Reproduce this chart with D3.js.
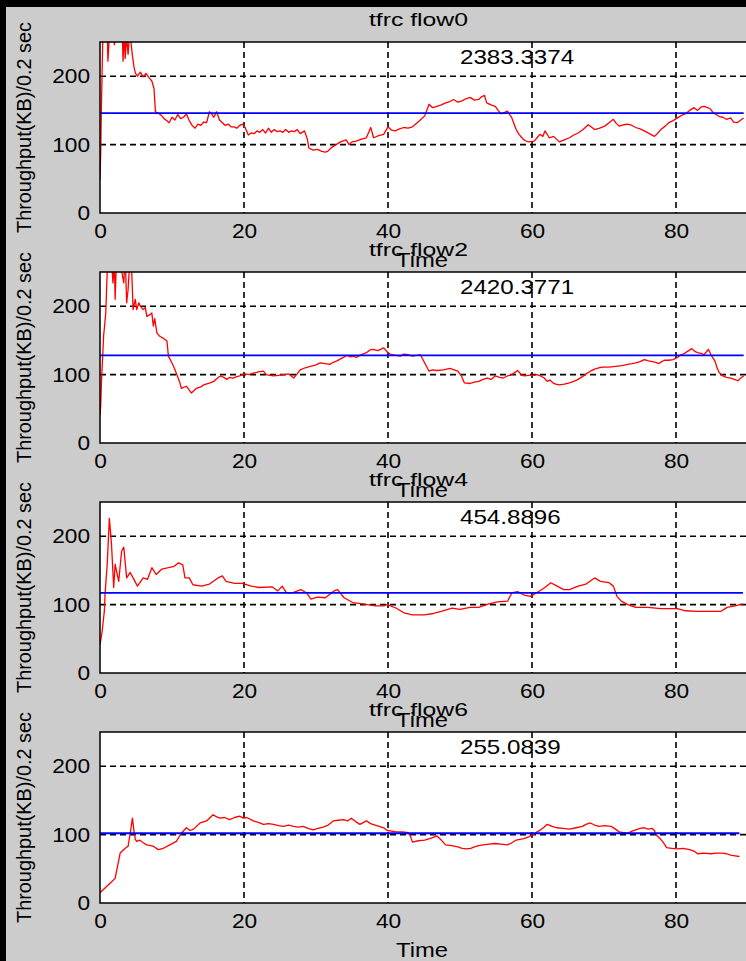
<!DOCTYPE html>
<html><head><meta charset="utf-8">
<script src="https://cdn.jsdelivr.net/npm/d3@7"></script>
<style>html,body{margin:0;padding:0;background:#000;overflow:hidden} svg{display:block}</style>
</head><body>
<script>
// ---------- data ----------
const flowNames = ["tfrc flow0", "tfrc flow2", "tfrc flow4", "tfrc flow6"];
const totals = ["2383.3374", "2420.3771", "454.8896", "255.0839"];
const meanValues = [146, 128, 117, 102];
const xTicks = [0, 20, 40, 60, 80];
const yTicks = [0, 100, 200];
const xLabel = "Time";
const yLabel = "Throughput(KB)/0.2 sec";

const flow0 = [[0,49],[0.1,88],[0.2,156],[0.4,262],[0.7,275],[1.0,268],[1.1,222],[1.3,258],[1.6,280],[1.9,262],[2.0,246],[2.2,270],[2.5,285],[2.9,270],[3.1,262],[3.2,222],[3.4,265],[3.5,226],[3.7,258],[3.9,232],[4.1,262],[4.3,250],[4.5,230],[4.7,215],[4.9,205],[5.2,200],[5.6,206],[6.0,199],[6.4,204],[6.8,198],[7.2,193],[7.5,182],[7.7,148],[8.1,146],[8.5,143],[8.9,138],[9.3,135],[9.6,132],[10.0,140],[10.4,136],[10.8,144],[11.2,138],[11.6,140],[12.0,145],[12.4,135],[12.8,128],[13.2,124],[13.6,130],[14.0,128],[14.4,133],[14.8,132],[15.2,148],[15.5,145],[15.8,140],[16.2,148],[16.6,136],[17.0,132],[17.4,128],[17.8,130],[18.2,126],[18.6,126],[19.0,124],[19.4,128],[19.8,130],[20.2,124],[20.6,114],[21.0,117],[21.4,116],[21.8,120],[22.2,118],[22.6,122],[23.0,117],[23.4,124],[23.8,118],[24.2,122],[24.6,119],[25.0,120],[25.4,118],[25.8,122],[26.2,118],[26.6,120],[27.0,119],[27.4,122],[27.8,116],[28.4,120],[28.8,108],[29.0,95],[29.6,92],[30.2,93],[30.8,90],[31.3,89],[31.6,90],[32.2,96],[32.8,100],[33.4,104],[34.2,107],[34.6,100],[35.0,104],[35.6,105],[36.3,108],[37.0,110],[37.6,125],[38.0,110],[38.7,113],[39.4,115],[40.0,126],[40.5,121],[41.0,120],[41.6,123],[42.2,125],[42.8,124],[43.4,126],[44.3,134],[45.1,142],[45.7,159],[46.2,154],[46.8,156],[47.4,158],[48.0,161],[48.6,163],[49.1,166],[49.7,162],[50.3,164],[50.8,167],[51.4,169],[52.0,165],[52.6,166],[53.0,170],[53.4,172],[53.7,161],[54.3,158],[54.9,156],[55.3,150],[55.7,145],[56.2,147],[56.6,149],[57.2,139],[57.8,122],[58.2,115],[58.6,110],[59.0,106],[59.5,104],[60.3,105],[60.7,110],[61.1,115],[61.5,112],[61.8,120],[62.4,110],[63.0,112],[63.4,108],[63.8,104],[64.5,107],[65.2,110],[65.8,114],[66.4,117],[67.1,122],[67.8,129],[68.2,126],[68.7,122],[69.4,124],[70.1,127],[70.7,132],[71.3,137],[71.7,131],[72.1,127],[72.7,129],[73.3,130],[73.9,128],[74.4,125],[75.0,123],[75.6,120],[76.3,116],[77.0,112],[77.4,116],[77.9,122],[78.5,127],[79.0,132],[79.6,135],[80.2,139],[80.8,143],[81.3,145],[81.9,150],[82.5,154],[83.0,150],[83.5,155],[83.9,156],[84.4,154],[84.8,152],[85.2,146],[85.6,144],[86.0,141],[86.5,140],[87.0,137],[87.6,139],[88.0,133],[88.5,132],[89.0,136],[89.4,139]];

const flow2 = [[0,41],[0.1,54],[0.2,88],[0.5,156],[0.8,190],[1.0,250],[1.2,268],[1.5,282],[1.8,234],[2.0,262],[2.1,210],[2.3,270],[2.6,285],[3.0,252],[3.3,234],[3.5,272],[3.7,205],[3.9,224],[4.1,260],[4.4,252],[4.6,195],[4.9,210],[5.1,195],[5.4,205],[5.6,200],[6.0,195],[6.3,198],[6.5,185],[7.0,188],[7.2,190],[7.4,171],[7.6,182],[7.9,161],[8.3,156],[8.8,153],[9.3,149],[9.5,127],[10.0,117],[10.3,110],[10.6,102],[11.1,88],[11.3,80],[12.0,83],[12.7,73],[13.4,80],[14.0,82],[14.4,85],[15.3,88],[15.8,90],[16.2,94],[16.7,98],[17.2,96],[17.6,93],[18.0,96],[18.5,95],[19.0,97],[19.4,98],[20.1,101],[20.7,100],[21.3,102],[22.0,104],[22.7,105],[23.1,100],[23.6,99],[24.1,98],[24.8,99],[25.5,100],[26.2,101],[26.9,95],[27.3,100],[27.8,107],[28.5,110],[29.2,112],[29.9,114],[30.6,117],[31.3,116],[31.9,115],[32.4,118],[32.9,120],[33.6,124],[34.3,128],[34.8,126],[35.2,127],[35.6,125],[36.1,128],[36.5,130],[37.0,132],[37.5,136],[37.9,137],[38.6,135],[39.4,139],[40.0,132],[40.5,129],[41.1,128],[41.7,127],[42.2,130],[42.8,129],[43.4,127],[44.0,128],[44.5,129],[45.1,117],[45.7,105],[46.2,107],[46.8,106],[47.7,107],[48.6,109],[49.2,107],[49.7,105],[50.2,98],[50.6,88],[51.4,87],[52.0,89],[52.6,90],[53.2,93],[53.8,95],[54.3,93],[54.9,98],[55.5,96],[56.0,95],[56.6,98],[57.2,100],[58.0,106],[58.5,100],[58.9,98],[59.5,99],[60.1,99],[60.7,100],[61.2,98],[61.7,95],[62.1,90],[62.5,92],[62.9,88],[63.3,86],[63.8,85],[64.5,86],[65.2,88],[65.8,90],[66.4,93],[67.0,97],[67.5,101],[68.1,105],[68.7,108],[69.3,110],[69.8,111],[70.7,111],[71.6,112],[72.5,113],[73.3,115],[73.9,116],[74.4,117],[75.0,119],[75.6,122],[76.2,120],[76.7,119],[77.2,118],[77.6,116],[78.0,119],[78.4,121],[79.0,121],[79.6,122],[80.2,125],[80.7,129],[81.2,131],[81.6,134],[82.2,138],[82.6,134],[83.0,132],[83.5,131],[83.9,129],[84.5,137],[84.9,128],[85.4,120],[85.7,110],[86.0,103],[86.5,98],[87.0,96],[87.6,95],[88.1,93],[88.6,91],[89.0,95],[89.4,98]];

const flow4 = [[0,41],[0.3,61],[0.6,90],[0.7,115],[1.0,159],[1.3,226],[1.6,188],[1.9,125],[2.1,159],[2.6,134],[3.0,178],[3.3,184],[3.7,139],[4.2,147],[4.6,139],[5.2,127],[6.0,139],[6.6,137],[7.2,154],[7.8,144],[8.6,152],[9.5,154],[10.3,156],[10.9,161],[11.5,158],[11.8,139],[12.4,139],[12.9,129],[14.1,127],[15.2,130],[16.4,139],[17.0,142],[17.5,134],[18.7,131],[19.8,131],[21.0,127],[22.1,125],[23.9,126],[24.7,120],[25.3,127],[25.9,117],[26.7,117],[27.9,122],[28.7,117],[29.3,108],[30.2,111],[31.3,110],[32.5,120],[33.0,122],[33.9,110],[35.1,103],[36.5,101],[38.2,98],[39.4,98],[39.9,100],[41.1,95],[42.2,88],[43.4,85],[45.1,85],[46.3,87],[47.4,90],[48.9,95],[50.0,93],[51.4,96],[52.6,96],[54.0,101],[55.2,104],[56.6,105],[57.2,117],[58.0,119],[58.9,114],[59.8,112],[60.6,117],[61.8,125],[62.6,132],[63.5,127],[64.4,122],[65.2,122],[66.4,127],[67.5,130],[68.7,139],[69.5,134],[70.7,132],[71.3,127],[71.8,112],[72.4,105],[73.3,100],[74.4,96],[76.1,96],[77.9,94],[80.2,94],[81.3,91],[83.0,90],[84.8,90],[86.2,90],[87.1,96],[88.2,98],[89.3,101]];

const flow6 = [[0,15],[1.4,29],[2.1,36],[2.8,73],[3.5,80],[3.9,83],[4.2,102],[4.5,124],[4.7,107],[4.9,93],[5.1,90],[5.5,92],[6.0,88],[6.5,85],[7.0,84],[7.4,83],[8.1,78],[8.8,80],[9.7,85],[10.6,90],[11.3,102],[12.0,110],[12.5,106],[13.0,108],[13.9,117],[14.8,120],[15.7,129],[16.2,126],[16.7,124],[17.3,125],[18.0,122],[18.7,125],[19.4,127],[19.9,124],[20.4,125],[21.3,120],[22.0,118],[22.7,115],[23.4,116],[24.1,115],[24.8,113],[25.5,112],[26.2,114],[26.9,112],[27.5,111],[28.2,112],[28.9,109],[29.6,107],[30.3,109],[31.0,111],[31.7,114],[32.4,120],[33.1,121],[33.8,122],[34.4,120],[34.9,124],[35.5,119],[36.1,115],[37.0,120],[37.6,116],[38.2,114],[38.8,112],[39.4,110],[39.9,106],[40.5,105],[41.1,104],[42.0,104],[42.8,103],[43.1,98],[43.4,89],[44.2,91],[45.1,92],[46.0,95],[46.8,98],[47.4,92],[48.0,85],[48.8,84],[49.7,82],[50.3,80],[50.9,79],[51.5,80],[52.0,82],[52.6,84],[53.2,85],[54.0,86],[54.9,87],[55.7,86],[56.6,85],[57.2,88],[57.8,92],[58.3,93],[58.9,94],[59.6,97],[60.3,101],[60.7,104],[61.2,107],[61.7,111],[62.1,115],[62.8,112],[63.5,110],[64.3,109],[65.2,108],[66.1,110],[67.0,112],[67.5,115],[68.1,117],[68.7,114],[69.3,112],[70.1,113],[71.0,112],[71.6,108],[72.1,104],[72.7,103],[73.3,102],[73.9,105],[74.4,107],[75.0,109],[75.6,110],[76.1,108],[76.7,109],[77.0,106],[77.3,99],[77.8,94],[78.2,89],[78.7,81],[79.4,80],[80.2,79],[81.0,80],[81.9,78],[82.5,76],[83.0,72],[83.9,73],[84.8,72],[85.6,73],[86.5,73],[87.0,72],[87.6,70],[88.2,69],[88.8,68]];

const flows = [flow0, flow2, flow4, flow6];

// ---------- layout ----------
const W = 746, H = 961;
const FONT = "'Liberation Sans', Arial, sans-serif";
const svg = d3.select("body").append("svg").attr("width", W).attr("height", H);
svg.append("rect").attr("width", W).attr("height", H).attr("fill", "#000");
svg.append("rect").attr("x", 6).attr("y", 7).attr("width", W - 6).attr("height", H - 7).attr("fill", "#cccccc");

const x = d3.scaleLinear().domain([0, 90]).range([100, 748]);

function fit(sel, factor, target) {
  sel.each(function () {
    const l = this.getComputedTextLength();
    this.setAttribute("textLength", target != null ? target : l * factor);
    this.setAttribute("lengthAdjust", "spacingAndGlyphs");
  });
}

flows.forEach((data, i) => {
  const top = 42 + i * 230, bottom = top + 171;
  const y = d3.scaleLinear().domain([0, 250]).range([bottom, top]);
  const g = svg.append("g");

  g.append("rect").attr("x", x(0)).attr("y", top).attr("width", x(90) - x(0)).attr("height", bottom - top).attr("fill", "#fff");

  const cid = "clip" + i;
  g.append("clipPath").attr("id", cid).append("rect")
    .attr("x", x(0)).attr("y", top).attr("width", x(90) - x(0)).attr("height", bottom - top);

  // grid
  g.selectAll(".vg").data(xTicks.filter(d => d > 0)).join("line")
    .attr("x1", d => x(d)).attr("x2", d => x(d)).attr("y1", top).attr("y2", bottom)
    .attr("stroke", "#000").attr("stroke-width", 1.6).attr("stroke-dasharray", "6,4");
  g.selectAll(".hg").data(yTicks.filter(d => d > 0)).join("line")
    .attr("x1", x(0)).attr("x2", x(90)).attr("y1", d => y(d)).attr("y2", d => y(d))
    .attr("stroke", "#000").attr("stroke-width", 1.6).attr("stroke-dasharray", "6,4");

  // red series
  const line = d3.line().x(d => x(d[0])).y(d => y(d[1]));
  g.append("path").datum(data).attr("d", line).attr("clip-path", `url(#${cid})`)
    .attr("fill", "none").attr("stroke", "#ff0000").attr("stroke-width", 1.3).attr("stroke-linejoin", "round");

  // blue mean line
  const tEnd = data[data.length - 1][0];
  g.append("line").attr("x1", x(0)).attr("x2", x(tEnd)).attr("y1", y(meanValues[i])).attr("y2", y(meanValues[i]))
    .attr("stroke", "#0000ff").attr("stroke-width", 1.8);

  // frame
  g.append("rect").attr("x", x(0)).attr("y", top).attr("width", x(90) - x(0)).attr("height", bottom - top)
    .attr("fill", "none").attr("stroke", "#000").attr("stroke-width", 1.5);

  // axes
  const ay = g.append("g").attr("transform", `translate(${x(0)},0)`)
    .call(d3.axisLeft(y).tickValues(yTicks).tickSize(0).tickPadding(10).tickFormat(d3.format("d")));
  ay.select(".domain").remove();
  ay.selectAll("text").attr("font-family", FONT).attr("font-size", 21).attr("fill", "#000").call(fit, 1.08);

  const ax = g.append("g").attr("transform", `translate(0,${bottom})`)
    .call(d3.axisBottom(x).tickValues(xTicks).tickSize(0).tickPadding(10).tickFormat(d3.format("d")));
  ax.select(".domain").remove();
  ax.selectAll("text").attr("font-family", FONT).attr("font-size", 21).attr("fill", "#000").call(fit, 1.08);

  // annotation
  g.append("text").attr("x", x(50)).attr("y", top + 22).attr("font-family", FONT).attr("font-size", 21)
    .attr("fill", "#000").text(totals[i]).call(fit, 1.15);

  // title
  g.append("text").attr("x", 369).attr("y", top - 16).attr("font-family", FONT).attr("font-size", 19)
    .attr("fill", "#000").text(flowNames[i]).call(fit, 1, 99);

  // x label
  g.append("text").attr("x", 422).attr("y", bottom + 54).attr("text-anchor", "middle").attr("font-family", FONT)
    .attr("font-size", 21).attr("fill", "#000").text(xLabel).call(fit, 1, 52);

  // y label
  g.append("text").attr("transform", `translate(31,${(top + bottom) / 2}) rotate(-90)`).attr("text-anchor", "middle")
    .attr("font-family", FONT).attr("font-size", 19.5).attr("fill", "#000").text(yLabel).call(fit, 1, 211);
});
</script>
</body></html>
